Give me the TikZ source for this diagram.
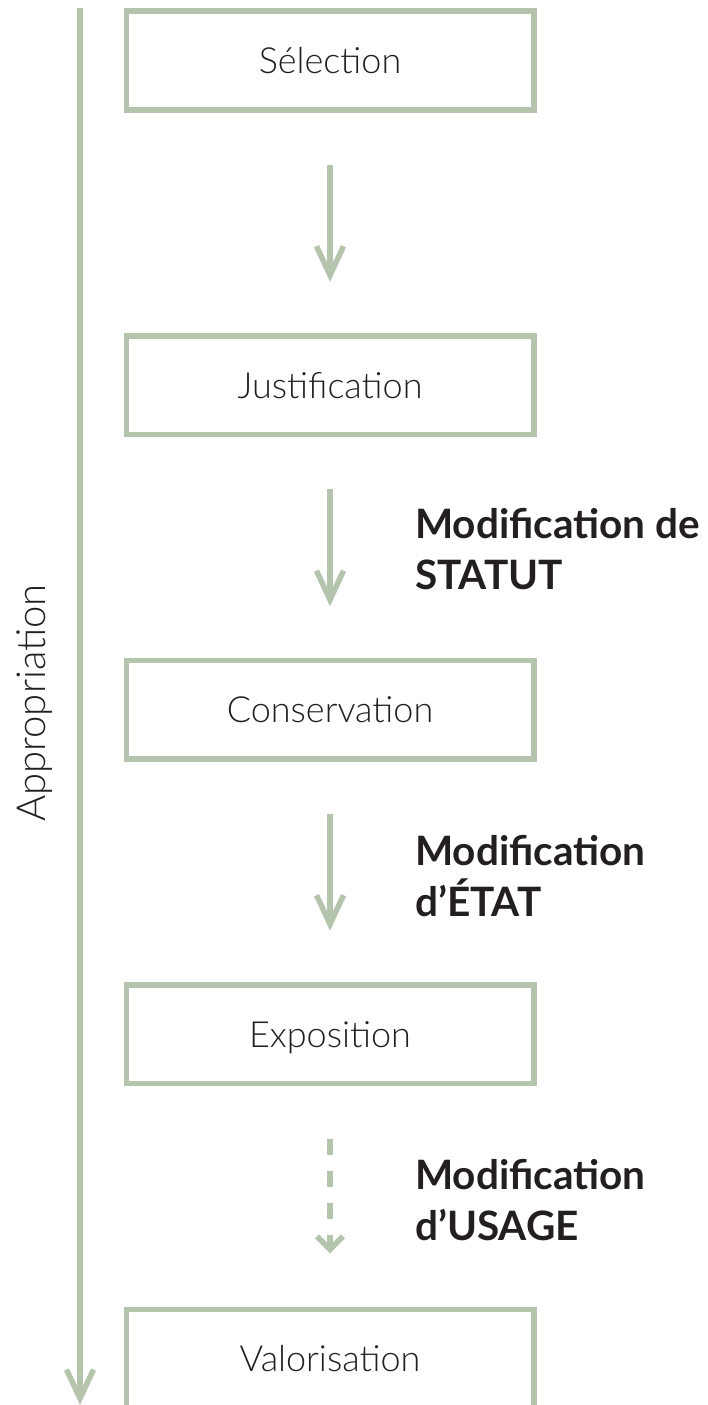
\documentclass[tikz,border=0pt]{standalone}
\usepackage{fontspec}
\setmainfont{Lato}
\newfontfamily\lightfont{Lato Light}
\usetikzlibrary{arrows.meta}
\definecolor{sage}{HTML}{B5C4AC}
\definecolor{ink}{HTML}{231F20}
\begin{document}
\begin{tikzpicture}[x=1pt,y=-1pt,
  stagebox/.style={draw=sage, line width=5.5pt, minimum width=407.5pt, minimum height=98.5pt,
    inner sep=0pt, outer sep=0pt, text height=26pt, text depth=0pt,
    font=\lightfont\fontsize{36}{40}\selectfont, text=ink},
  flow/.style={draw=sage, line width=5.5pt, -{Straight Barb[length=29pt,width=27pt]}},
  dflow/.style={draw=sage, line width=5.5pt, dash pattern=on 16pt off 16pt, -{Straight Barb[length=13pt,width=26pt]}},
  modlabel/.style={anchor=base west, align=left, inner sep=0pt, text=ink,
    font=\bfseries\fontsize{40.5}{51}\selectfont},
  sidelabel/.style={rotate=90, inner sep=0pt, text=ink, text height=28pt, text depth=0pt,
    font=\lightfont\fontsize{40}{44}\selectfont}]
\useasboundingbox[fill=white] (0,0) rectangle (708,1405);

\node[stagebox] (b1) at (330,60.5) {Sélection};
\node[stagebox] (b2) at (330,385) {Justification};
\node[stagebox] (b3) at (330,709.5) {Conservation};
\node[stagebox] (b4) at (330,1034) {Exposition};
\node[stagebox] (b5) at (330,1358.5) {Valorisation};

\draw[flow] ([yshift=-55pt]b1.south) -- ([yshift=54pt]b2.north);
\draw[flow] ([yshift=-55pt]b2.south) -- ([yshift=54pt]b3.north);
\draw[flow] ([yshift=-55pt]b3.south) -- ([yshift=54pt]b4.north);
\draw[dflow] ([yshift=-56pt]b4.south) -- ([yshift=56pt]b5.north);

\node[modlabel] (m1) at (415,589) {Modification de\\STATUT};
\node[modlabel] (m2) at (415,916) {Modification\\d’ÉTAT};
\node[modlabel] (m3) at (415,1240) {Modification\\d’USAGE};

\coordinate (ltop) at (80,8);
\coordinate (lbot) at (80,1405);
\draw[flow] (ltop) -- (lbot);
\node[sidelabel] (ap) at (31,703) {Appropriation};
\end{tikzpicture}
\end{document}
